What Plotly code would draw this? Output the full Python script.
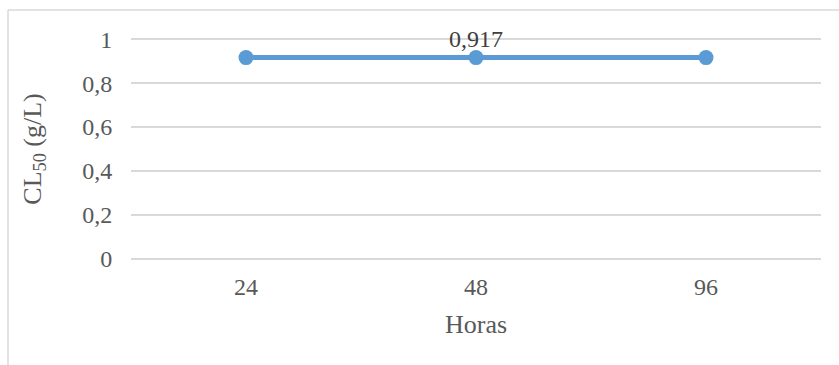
import plotly.graph_objects as go

# Lethal concentration over exposure time
horas = ["24", "48", "96"]
cl50 = [0.917, 0.917, 0.917]
etiqueta_idx = 1  # only the middle point carries a value label

AZUL = "#5B9BD5"
GRIS = "#595959"
FUENTE = "Liberation Serif"

fig = go.Figure()
fig.add_trace(go.Scatter(
    x=horas, y=cl50,
    mode="lines+markers",
    line=dict(color=AZUL, width=5),
    marker=dict(color=AZUL, size=15),
    cliponaxis=False,
    showlegend=False,
))

# value label above the middle point (category axis positions are indices)
fig.add_annotation(
    x=etiqueta_idx, y=cl50[etiqueta_idx],
    text=f"{cl50[etiqueta_idx]:.3f}".replace(".", ","),
    showarrow=False, yanchor="bottom", yshift=4,
    font=dict(family=FUENTE, size=24, color="#404040"),
)

fig.update_layout(
    width=839, height=365,
    margin=dict(l=131, r=18, t=35, b=102),
    paper_bgcolor="white", plot_bgcolor="white",
    separators=",.",
    font=dict(family=FUENTE, color=GRIS),
    xaxis=dict(
        type="category", range=[-0.5, 2.5],
        showgrid=False, zeroline=False, showline=False,
        tickfont=dict(family=FUENTE, size=24, color=GRIS),
        ticks="outside", ticklen=0, ticklabelstandoff=2,
        title=dict(text="Horas", font=dict(family=FUENTE, size=26, color=GRIS), standoff=16),
        automargin=False,
    ),
    yaxis=dict(
        range=[-0.02, 1.02], dtick=0.2, tick0=0,
        showgrid=True, gridcolor="#D9D9D9", gridwidth=1.5,
        zeroline=False, showline=False,
        tickfont=dict(family=FUENTE, size=24, color=GRIS),
        ticks="outside", ticklen=0, ticklabelstandoff=13,
        title=dict(text="CL<sub>50</sub> (g/L)", font=dict(family=FUENTE, size=26, color=GRIS), standoff=33),
        automargin=False,
    ),
    shapes=[
        dict(type="line", xref="paper", yref="paper",
             x0=(8 - 131) / 690, x1=(8 - 131) / 690,
             y0=-0.6, y1=1 + (35 - 10) / 228,
             line=dict(color="#D9D9D9", width=1.5)),
        dict(type="line", xref="paper", yref="paper",
             x0=(8 - 131) / 690, x1=1.1,
             y0=1 + (35 - 10) / 228, y1=1 + (35 - 10) / 228,
             line=dict(color="#D9D9D9", width=1.5)),
    ],
)

fig.write_html("out.html")
